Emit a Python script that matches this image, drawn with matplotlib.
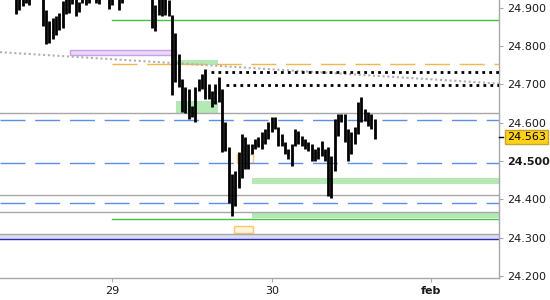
import matplotlib
matplotlib.use("Agg")
import matplotlib.pyplot as plt
from matplotlib.patches import Rectangle

# 30 minute bars, x in days counted from 29 jan 00:00 (29 -> 0, 30 -> 1, feb -> 2)
bar_start = -0.604
bar_step = 1 / 48

bar_high = [
    24.947, 24.947, 24.947, 24.947, 24.947, 24.973, 24.973, 24.973, 24.941, 24.895,
    24.866, 24.874, 24.879, 24.887, 24.918, 24.934, 24.934, 24.934, 24.928, 24.916,
    24.934, 24.934, 24.934, 24.973, 24.934, 24.934, 24.973, 24.973, 24.934, 24.934,
    24.973, 24.934, 24.934, 24.973, 24.973, 24.973, 24.973, 24.973, 24.973, 24.973,
    24.973, 24.934, 24.908, 24.934, 24.934, 24.934, 24.921, 24.882, 24.833, 24.778,
    24.714, 24.693, 24.688, 24.644, 24.693, 24.714, 24.726, 24.739, 24.700, 24.683,
    24.700, 24.719, 24.688, 24.602, 24.537, 24.467, 24.473, 24.524, 24.571, 24.563,
    24.545, 24.545, 24.558, 24.563, 24.576, 24.584, 24.602, 24.615, 24.615, 24.589,
    24.571, 24.550, 24.532, 24.545, 24.584, 24.579, 24.566, 24.558, 24.550, 24.545,
    24.532, 24.537, 24.553, 24.532, 24.537, 24.514, 24.610, 24.623, 24.623, 24.623,
    24.584, 24.576, 24.589, 24.654, 24.667, 24.636, 24.628, 24.623, 24.610,
]
bar_low = [
    24.884, 24.895, 24.905, 24.913, 24.908, 24.928, 24.928, 24.928, 24.853, 24.804,
    24.809, 24.817, 24.830, 24.843, 24.848, 24.884, 24.887, 24.910, 24.879, 24.890,
    24.913, 24.908, 24.913, 24.928, 24.913, 24.910, 24.928, 24.928, 24.897, 24.908,
    24.928, 24.895, 24.913, 24.928, 24.928, 24.928, 24.928, 24.928, 24.928, 24.928,
    24.928, 24.848, 24.840, 24.882, 24.879, 24.882, 24.877, 24.672, 24.706, 24.693,
    24.628, 24.625, 24.610, 24.615, 24.602, 24.683, 24.688, 24.662, 24.662, 24.641,
    24.649, 24.654, 24.524, 24.527, 24.390, 24.356, 24.382, 24.429, 24.455, 24.480,
    24.480, 24.519, 24.532, 24.537, 24.532, 24.545, 24.558, 24.576, 24.584, 24.540,
    24.540, 24.519, 24.506, 24.486, 24.540, 24.545, 24.540, 24.532, 24.527, 24.501,
    24.501, 24.506, 24.512, 24.499, 24.410, 24.403, 24.475, 24.566, 24.602, 24.550,
    24.501, 24.519, 24.545, 24.571, 24.602, 24.605, 24.592, 24.584, 24.558,
]
bar_time = [bar_start + i * bar_step for i in range(len(bar_high))]
last_price = 24.563

day_ticks = [0, 1, 2]
day_labels = ["29", "30", "feb"]
price_ticks = [24.2, 24.3, 24.4, 24.5, 24.6, 24.7, 24.8, 24.9]

x_min, x_max = -0.7045, 2.426
y_min, y_max = 24.195, 24.920

# horizontal levels
gray_levels = [24.625, 24.412, 24.368, 24.311]
blue_levels = [24.607, 24.495, 24.391]
green_levels = [24.868, 24.350]          # drawn from day 29 onwards
orange_level = 24.752                    # from day 29 onwards
dotted_starts = [0.619, 0.713]
dotted_levels = [24.732, 24.699]
trend_prices = [24.784, 24.702]          # from left edge to right edge
band_low, band_high = 24.296, 24.311

# zones: (start day, end day, low, high); None = up to right edge
green_zones = [
    (0.400, 0.664, 24.750, 24.763),
    (0.400, 0.664, 24.625, 24.657),
    (0.876, None, 24.441, 24.457),
    (0.876, None, 24.352, 24.368),
]
purple_zone = (-0.265, 0.400, 24.776, 24.789)
orange_zone = (0.763, 0.882, 24.312, 24.330)
orange_box = (0.782, 0.881, 24.496, 24.519)

plt.rcParams['font.family'] = ['DejaVu Sans']

fig = plt.figure(figsize=(5.5, 3), dpi=100)
ax = fig.add_axes([0, 22 / 300, 499 / 550, 278 / 300])
ax.set_xlim(x_min, x_max)
ax.set_ylim(y_min, y_max)

# zones
for x0, x1, lo, hi in green_zones:
    x1 = x_max if x1 is None else x1
    ax.add_patch(Rectangle((x0, lo), x1 - x0, hi - lo, facecolor='#b4e8b4',
                           edgecolor='none', zorder=1))
x0, x1, lo, hi = purple_zone
ax.add_patch(Rectangle((x0, lo), x1 - x0, hi - lo, facecolor='#ead8f7',
                       edgecolor='#c8a2e8', lw=1, zorder=1))
x0, x1, lo, hi = orange_zone
ax.add_patch(Rectangle((x0, lo), x1 - x0, hi - lo, facecolor='#fff3dd',
                       edgecolor='#ffc870', lw=1, zorder=1))
x0, x1, lo, hi = orange_box
ax.add_patch(Rectangle((x0, lo), x1 - x0, hi - lo, facecolor='none',
                       edgecolor='#ffc870', lw=1, zorder=1))

# lavender band at the bottom
ax.axhspan(band_low, band_high, color='#dcdcf5', lw=0, zorder=1)
ax.axhline(band_low, color='#2a2ab0', lw=1, zorder=2)

# levels
for lv in gray_levels:
    ax.axhline(lv, color='#a8a8a8', lw=1, zorder=2)
for lv in blue_levels:
    ax.axhline(lv, color='#5b8fec', lw=1, dashes=(18, 7), zorder=2)
for lv in green_levels:
    ax.plot([0, x_max], [lv, lv], color='#3ec43e', lw=1, zorder=2)
ax.plot([0, x_max], [orange_level, orange_level], color='#f5b64c', lw=1,
        dashes=(18, 7), zorder=2)
for xs, lv in zip(dotted_starts, dotted_levels):
    ax.plot([xs, x_max], [lv, lv], color='black', lw=2, dashes=(1, 1.5), zorder=3)
ax.plot([x_min, x_max], trend_prices, color='#b0b0b0', lw=1.5,
        dashes=(1, 1.3), zorder=2)

# price bars
ax.vlines(bar_time, bar_low, bar_high, colors='black', lw=2.0, zorder=5)

# axes styling
for side in ['left', 'top']:
    ax.spines[side].set_visible(False)
for side in ['right', 'bottom']:
    ax.spines[side].set_color('#a8a8a8')
    ax.spines[side].set_linewidth(1)

ax.yaxis.tick_right()
ax.set_yticks(price_ticks)
ax.set_yticklabels([f"{p:.3f}" for p in price_ticks])
ax.set_xticks(day_ticks)
ax.set_xticklabels(day_labels)
ax.tick_params(axis='y', colors='#a8a8a8', labelcolor='#1a1a1a', labelsize=8,
               length=3, pad=3)
ax.tick_params(axis='x', colors='#a8a8a8', labelcolor='#1a1a1a', labelsize=8,
               length=3, pad=3)
for lab in ax.get_yticklabels():
    if lab.get_text() == "24.500":
        lab.set_fontweight('bold')
for lab in ax.get_xticklabels():
    if lab.get_text() == "feb":
        lab.set_fontweight('bold')

# last price tag
ytr = ax.get_yaxis_transform()
ax.plot([1.0, 1.009], [last_price, last_price], color='black', lw=1,
        transform=ytr, clip_on=False, zorder=10)
ax.text(1.016, last_price, f"{last_price:.3f}", transform=ytr, fontsize=8,
        color='black', va='center', ha='left', zorder=11,
        bbox=dict(boxstyle='square,pad=0.15', facecolor='#ffd21a',
                  edgecolor='#c9a227', lw=1))

fig.savefig("out.png", dpi=100)
